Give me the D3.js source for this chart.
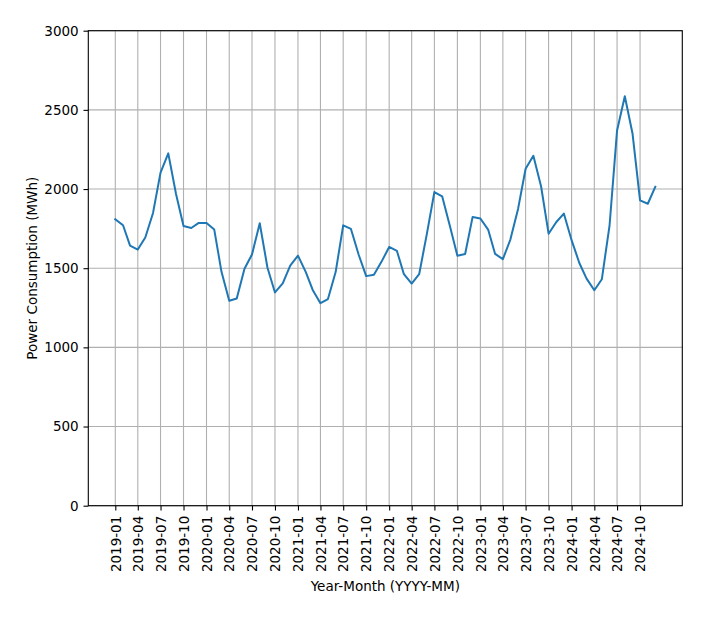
<!DOCTYPE html>
<html>
<head>
<meta charset="utf-8">
<script src="https://cdn.jsdelivr.net/npm/d3@7"></script>
<style>
  html, body { margin: 0; padding: 0; background: #fff; }
  svg { display: block; }
  text { font-family: "DejaVu Sans", sans-serif; fill: #000; }
</style>
</head>
<body>
<svg id="chart" width="707" height="619"></svg>
<script>
const months = [
  "2019-01","2019-02","2019-03","2019-04","2019-05","2019-06","2019-07","2019-08","2019-09","2019-10","2019-11","2019-12",
  "2020-01","2020-02","2020-03","2020-04","2020-05","2020-06","2020-07","2020-08","2020-09","2020-10","2020-11","2020-12",
  "2021-01","2021-02","2021-03","2021-04","2021-05","2021-06","2021-07","2021-08","2021-09","2021-10","2021-11","2021-12",
  "2022-01","2022-02","2022-03","2022-04","2022-05","2022-06","2022-07","2022-08","2022-09","2022-10","2022-11","2022-12",
  "2023-01","2023-02","2023-03","2023-04","2023-05","2023-06","2023-07","2023-08","2023-09","2023-10","2023-11","2023-12",
  "2024-01","2024-02","2024-03","2024-04","2024-05","2024-06","2024-07","2024-08","2024-09","2024-10","2024-11","2024-12"
];
const consumption = [
  1809, 1771, 1643, 1618, 1694, 1849, 2104, 2225, 1969, 1767, 1754, 1786,
  1786, 1744, 1477, 1294, 1309, 1497, 1587, 1784, 1503, 1347, 1404, 1516,
  1579, 1477, 1363, 1279, 1305, 1477, 1771, 1748, 1585, 1450, 1458, 1540,
  1634, 1609, 1462, 1403, 1462, 1718, 1981, 1954, 1767, 1579, 1590, 1824,
  1814, 1744, 1590, 1557, 1681, 1876, 2128, 2210, 2016, 1718, 1792, 1845,
  1677, 1533, 1434, 1361, 1430, 1771, 2370, 2586, 2349, 1928, 1907, 2014
];
const xTickLabels = [
  "2019-01","2019-04","2019-07","2019-10","2020-01","2020-04","2020-07","2020-10",
  "2021-01","2021-04","2021-07","2021-10","2022-01","2022-04","2022-07","2022-10",
  "2023-01","2023-04","2023-07","2023-10","2024-01","2024-04","2024-07","2024-10"
];
const yTicks = [0, 500, 1000, 1500, 2000, 2500, 3000];

const parse = d3.utcParse("%Y-%m");
const data = months.map((m, i) => ({ date: parse(m), value: consumption[i] }));

const svg = d3.select("#chart");
const L = 88.3, R = 682.3, T = 30.7, B = 505.7;
const FS = 13.5;

const d0 = data[0].date, d1 = data[data.length - 1].date;
const span = d1 - d0;
const x = d3.scaleUtc()
  .domain([new Date(+d0 - 0.05 * span), new Date(+d1 + 0.05 * span)])
  .range([L, R]);
const y = d3.scaleLinear().domain([0, 3000]).range([B, T]);

const xTicks = xTickLabels.map(parse);

// grid
const grid = svg.append("g");
grid.selectAll("line.v").data(xTicks).join("line")
  .attr("x1", d => x(d)).attr("x2", d => x(d))
  .attr("y1", T).attr("y2", B)
  .attr("stroke", "#b0b0b0").attr("stroke-width", 1.1);
grid.selectAll("line.h").data(yTicks).join("line")
  .attr("x1", L).attr("x2", R)
  .attr("y1", d => y(d)).attr("y2", d => y(d))
  .attr("stroke", "#b0b0b0").attr("stroke-width", 1.1);

// line
svg.append("path")
  .datum(data)
  .attr("fill", "none")
  .attr("stroke", "#1f77b4")
  .attr("stroke-width", 2)
  .attr("stroke-linejoin", "round")
  .attr("stroke-linecap", "square")
  .attr("d", d3.line().x(d => x(d.date)).y(d => y(d.value)));

// axes
const xAxis = svg.append("g")
  .attr("transform", `translate(0,${B})`)
  .call(d3.axisBottom(x).tickValues(xTicks).tickFormat(d3.utcFormat("%Y-%m")).tickSize(4.8).tickPadding(4.8).tickSizeOuter(0));
xAxis.select(".domain").remove();
xAxis.selectAll(".tick line").attr("stroke", "#000").attr("stroke-width", 1.1);
xAxis.selectAll(".tick text")
  .attr("font-size", FS)
  .attr("font-family", "DejaVu Sans")
  .attr("transform", "rotate(-90)")
  .attr("text-anchor", "end")
  .attr("x", -10)
  .attr("y", 0)
  .attr("dy", "0.35em");

const yAxis = svg.append("g")
  .attr("transform", `translate(${L},0)`)
  .call(d3.axisLeft(y).tickValues(yTicks).tickFormat(d3.format("d")).tickSize(4.8).tickPadding(4.8).tickSizeOuter(0));
yAxis.select(".domain").remove();
yAxis.selectAll(".tick line").attr("stroke", "#000").attr("stroke-width", 1.1);
yAxis.selectAll(".tick text").attr("font-size", FS).attr("font-family", "DejaVu Sans");

// frame
svg.append("rect")
  .attr("x", L).attr("y", T).attr("width", R - L).attr("height", B - T)
  .attr("fill", "none").attr("stroke", "#000").attr("stroke-width", 1.1);

// labels
svg.append("text")
  .attr("x", (L + R) / 2).attr("y", 591)
  .attr("text-anchor", "middle")
  .attr("font-size", FS)
  .text("Year-Month (YYYY-MM)");
svg.append("text")
  .attr("transform", `translate(36.5,${(T + B) / 2}) rotate(-90)`)
  .attr("text-anchor", "middle")
  .attr("font-size", FS)
  .text("Power Consumption (MWh)");
</script>
</body>
</html>
